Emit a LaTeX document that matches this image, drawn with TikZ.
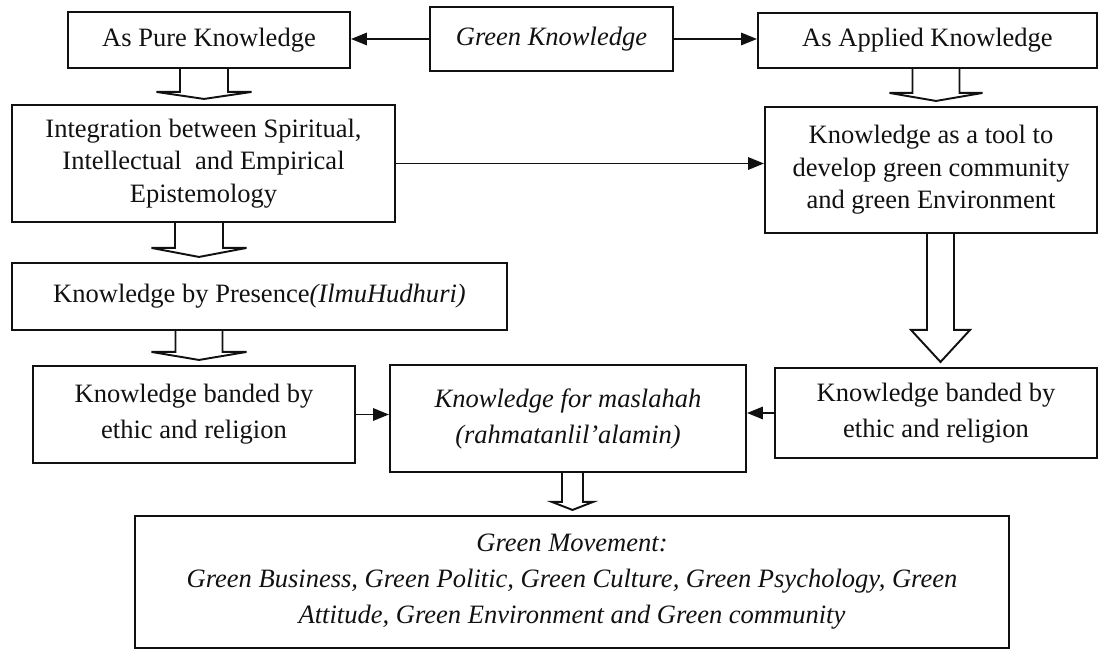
\documentclass[tikz,border=0pt]{standalone}
\usepackage{fontspec}
\setmainfont{Liberation Serif}
\usetikzlibrary{arrows.meta, calc}
\definecolor{ink}{HTML}{111111}

\begin{document}
\begin{tikzpicture}[
    x=0.02cm, y=-0.02cm,
    >={Triangle[length=9pt, width=7pt]},
    every node/.style={text=ink},
    box/.style={draw=ink, line width=1.2pt, align=center, inner sep=0pt,
      font=\fontsize{15.1}{18.5}\selectfont},
    loose/.style={font=\fontsize{15.1}{20.5}\selectfont},
    link/.style={draw=ink, line width=1.1pt, ->},
    blockarr/.style={draw=ink, line width=1.1pt, fill=white, line join=miter},
  ]

  % ══════════════════════════════════════════════════════
  % Canvas (pixel grid of the figure, y running down)
  % ══════════════════════════════════════════════════════
  \useasboundingbox (0,0) rectangle (1099,651);

  % ══════════════════════════════════════════════════════
  % Top row
  % ══════════════════════════════════════════════════════
  \node[box, minimum width=5.64cm, minimum height=1.12cm] (pure)
    at (209,40) {As Pure Knowledge};
  \node[box, minimum width=4.86cm, minimum height=1.28cm] (gk)
    at (551.5,39) {\itshape Green Knowledge};
  \node[box, minimum width=6.78cm, minimum height=1.10cm] (applied)
    at (927.5,40.5) {As Applied Knowledge};

  % ══════════════════════════════════════════════════════
  % Pure branch (left column)
  % ══════════════════════════════════════════════════════
  \node[box, minimum width=7.66cm, minimum height=2.34cm] (integ)
    at (203.5,163.5)
    {Integration between Spiritual,\\ Intellectual\ \ and Empirical\\ Epistemology};
  \node[box, minimum width=9.90cm, minimum height=1.34cm] (pres)
    at (259.5,296.5) {Knowledge by Presence\textit{(IlmuHudhuri)}};
  \node[box, loose, minimum width=6.44cm, minimum height=1.94cm] (bandl)
    at (194,414.5) {Knowledge banded by\\ ethic and religion};

  % ══════════════════════════════════════════════════════
  % Applied branch (right column)
  % ══════════════════════════════════════════════════════
  \node[box, minimum width=6.64cm, minimum height=2.52cm] (tool)
    at (931,170)
    {Knowledge as a tool to\\ develop green community\\ and green Environment};
  \node[box, loose, minimum width=6.44cm, minimum height=1.80cm] (bandr)
    at (936,413) {Knowledge banded by\\ ethic and religion};

  % ══════════════════════════════════════════════════════
  % Maslahah and Green Movement
  % ══════════════════════════════════════════════════════
  \node[box, loose, minimum width=7.12cm, minimum height=2.14cm] (masl)
    at (568,418.5)
    {\textit{Knowledge for maslahah}\\ \textit{(rahmatanlil'alamin)}};
  \node[box, loose, minimum width=17.48cm, minimum height=2.64cm] (gm)
    at (572,582)
    {\textit{Green Movement:}\\
     \textit{Green Business, Green Politic, Green Culture, Green Psychology, Green}\\
     \textit{Attitude, Green Environment and Green community}};

  % ══════════════════════════════════════════════════════
  % Line arrows
  % ══════════════════════════════════════════════════════
  \draw[link] (gk.west) -- (gk.west -| pure.east);
  \draw[link] (gk.east) -- (gk.east -| applied.west);
  \draw[link] (integ.east) -- (integ.east -| tool.west);
  \draw[link] (bandl.east) -- (bandl.east -| masl.west);
  \draw[link] (bandr.west) -- (bandr.west -| masl.east);

  % ══════════════════════════════════════════════════════
  % Hollow block arrows: from/to/centre x/half shaft/half head/head height
  % ══════════════════════════════════════════════════════
  \foreach \a/\b/\cx/\hs/\hw/\hh in {pure/integ/204/24/47.5/7,
      applied/tool/936/23.5/46.5/8, integ/pres/199/24/47.5/9,
      pres/bandl/199/23.5/47.5/8, masl/gm/572.5/10.5/20.5/8,
      tool/bandr/940.5/13.5/29.5/32}{
    \draw[blockarr]
      (\cx-\hs,0 |- \a.south)
      -- ($(\cx-\hs,0 |- \b.north)+(0,-5-\hh)$)
      -- ($(\cx-\hw,0 |- \b.north)+(0,-5-\hh)$)
      -- ($(\cx,0 |- \b.north)+(0,-5)$)
      -- ($(\cx+\hw,0 |- \b.north)+(0,-5-\hh)$)
      -- ($(\cx+\hs,0 |- \b.north)+(0,-5-\hh)$)
      -- (\cx+\hs,0 |- \a.south);
  }

\end{tikzpicture}
\end{document}
